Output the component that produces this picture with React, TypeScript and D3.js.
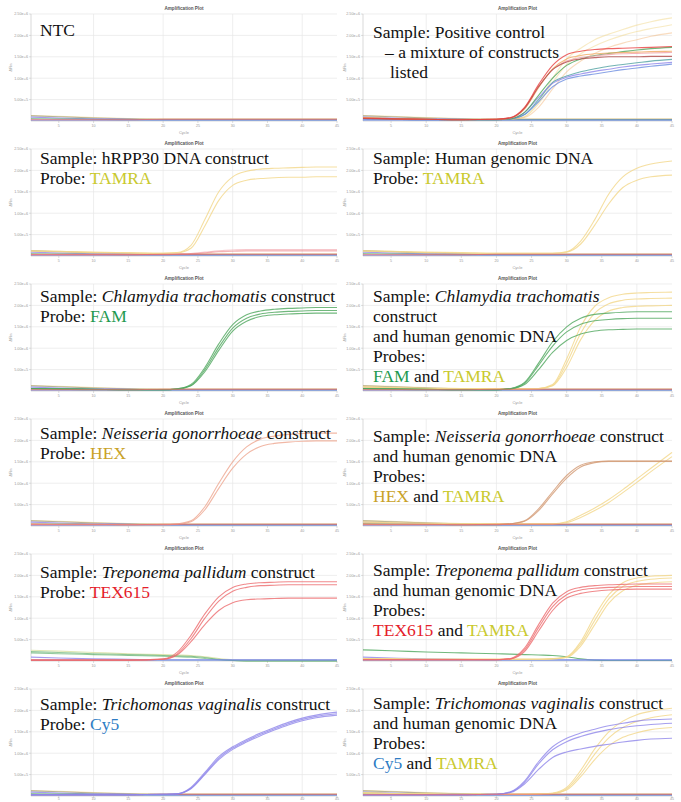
import * as d3 from "d3";

const CYCLES = [1, 5, 10, 15, 20, 22, 24, 26, 28, 30, 32, 34, 36, 38, 40, 42, 45];

const X_TICKS = [5, 10, 15, 20, 25, 30, 35, 40, 45];
const X_GRID = [10, 20, 30, 40];
const Y_TICKS = [0.5, 1.0, 1.5, 2.0, 2.5];
const Y_TICK_LABELS = ["5.00e+5", "1.00e+6", "1.50e+6", "2.00e+6", "2.50e+6"];

// ΔRn values in millions
const BASE_OLIVE = [0.12, 0.1, 0.07, 0.05, 0.04, 0.04, 0.04, 0.04, 0.04, 0.04, 0.04, 0.04, 0.04, 0.04, 0.04, 0.04, 0.04];
const BASE_PURPLE = [0.09, 0.07, 0.05, 0.04, 0.03, 0.03, 0.03, 0.03, 0.03, 0.03, 0.03, 0.03, 0.03, 0.03, 0.03, 0.03, 0.03];
const BASE_YELLOW = [0.13, 0.11, 0.08, 0.06, 0.05, 0.05, 0.05, 0.05, 0.05, 0.05, 0.05, 0.05, 0.05, 0.05, 0.05, 0.05, 0.05];
const BASE_GREEN = [0.06, 0.05, 0.04, 0.03, 0.03, 0.03, 0.03, 0.03, 0.03, 0.03, 0.03, 0.03, 0.03, 0.03, 0.03, 0.03, 0.03];
const BASE_RED = [0.03, 0.03, 0.03, 0.03, 0.04, 0.04, 0.04, 0.04, 0.04, 0.04, 0.04, 0.04, 0.04, 0.04, 0.04, 0.04, 0.04];
const BASE_BLUE = [0.02, 0.02, 0.02, 0.02, 0.02, 0.02, 0.02, 0.02, 0.02, 0.02, 0.02, 0.02, 0.02, 0.02, 0.02, 0.02, 0.02];

// positive control
const PC_RED = [0.07, 0.05, 0.04, 0.03, 0.04, 0.08, 0.32, 0.85, 1.3, 1.55, 1.63, 1.67, 1.69, 1.7, 1.71, 1.72, 1.74];
const PC_ORANGE = [0.08, 0.06, 0.04, 0.03, 0.04, 0.07, 0.28, 0.78, 1.22, 1.45, 1.53, 1.57, 1.59, 1.6, 1.61, 1.62, 1.63];
const PC_BROWN = [0.06, 0.05, 0.04, 0.03, 0.04, 0.07, 0.3, 0.8, 1.2, 1.38, 1.45, 1.48, 1.5, 1.5, 1.5, 1.51, 1.51];
const PC_PINK = [0.06, 0.05, 0.04, 0.03, 0.04, 0.07, 0.3, 0.8, 1.2, 1.4, 1.48, 1.52, 1.55, 1.57, 1.58, 1.59, 1.6];
const PC_GREEN = [0.06, 0.05, 0.04, 0.03, 0.03, 0.05, 0.2, 0.6, 1.0, 1.3, 1.45, 1.53, 1.58, 1.62, 1.66, 1.69, 1.72];
const PC_TEAL = [0.05, 0.04, 0.03, 0.03, 0.03, 0.05, 0.15, 0.5, 0.9, 1.05, 1.15, 1.22, 1.28, 1.32, 1.36, 1.4, 1.44];
const PC_BLUE = [0.05, 0.04, 0.03, 0.03, 0.03, 0.05, 0.15, 0.45, 0.8, 0.98, 1.05, 1.1, 1.15, 1.2, 1.24, 1.28, 1.33];
const PC_VIOLET = [0.05, 0.04, 0.03, 0.03, 0.03, 0.05, 0.2, 0.55, 0.88, 1.02, 1.1, 1.16, 1.21, 1.26, 1.3, 1.33, 1.37];
const PC_YEL1 = [0.08, 0.06, 0.04, 0.03, 0.03, 0.04, 0.1, 0.45, 1.0, 1.45, 1.7, 1.9, 2.03, 2.14, 2.24, 2.32, 2.41];
const PC_YEL2 = [0.08, 0.06, 0.04, 0.03, 0.03, 0.04, 0.1, 0.4, 0.9, 1.32, 1.57, 1.75, 1.89, 2.0, 2.09, 2.16, 2.25];
const PC_YEL3 = [0.08, 0.06, 0.04, 0.03, 0.03, 0.04, 0.08, 0.32, 0.75, 1.15, 1.4, 1.58, 1.72, 1.82, 1.9, 1.98, 2.06];

// hRPP30 construct
const HR_YEL1 = [0.12, 0.11, 0.09, 0.08, 0.07, 0.08, 0.25, 0.85, 1.5, 1.85, 1.98, 2.03, 2.05, 2.06, 2.07, 2.08, 2.08];
const HR_YEL2 = [0.11, 0.1, 0.08, 0.07, 0.06, 0.07, 0.18, 0.7, 1.3, 1.65, 1.77, 1.81, 1.83, 1.84, 1.84, 1.85, 1.85];
const HR_PINK1 = [0.04, 0.04, 0.04, 0.04, 0.04, 0.05, 0.06, 0.09, 0.12, 0.14, 0.15, 0.15, 0.15, 0.15, 0.15, 0.15, 0.15];
const HR_PINK2 = [0.03, 0.03, 0.03, 0.03, 0.03, 0.04, 0.05, 0.07, 0.1, 0.11, 0.12, 0.12, 0.12, 0.12, 0.12, 0.12, 0.12];

// human genomic DNA
const HG_YEL1 = [0.12, 0.11, 0.09, 0.08, 0.07, 0.07, 0.07, 0.07, 0.07, 0.1, 0.35, 0.85, 1.45, 1.85, 2.05, 2.15, 2.22];
const HG_YEL2 = [0.11, 0.1, 0.08, 0.07, 0.06, 0.06, 0.06, 0.06, 0.06, 0.09, 0.28, 0.72, 1.22, 1.6, 1.77, 1.85, 1.89];

// Chlamydia trachomatis
const CT_G1 = [0.06, 0.05, 0.04, 0.03, 0.03, 0.05, 0.15, 0.55, 1.1, 1.55, 1.78, 1.87, 1.91, 1.93, 1.94, 1.95, 1.95];
const CT_G2 = [0.06, 0.05, 0.04, 0.03, 0.03, 0.05, 0.13, 0.5, 1.02, 1.47, 1.7, 1.8, 1.84, 1.86, 1.87, 1.88, 1.88];
const CT_G3 = [0.05, 0.04, 0.03, 0.03, 0.03, 0.04, 0.12, 0.45, 0.95, 1.4, 1.63, 1.74, 1.78, 1.8, 1.81, 1.82, 1.82];
const CTH_G1 = [0.06, 0.05, 0.04, 0.03, 0.03, 0.06, 0.2, 0.65, 1.15, 1.5, 1.7, 1.79, 1.82, 1.84, 1.85, 1.85, 1.85];
const CTH_G2 = [0.06, 0.05, 0.04, 0.03, 0.03, 0.05, 0.18, 0.6, 1.05, 1.38, 1.56, 1.64, 1.67, 1.69, 1.7, 1.7, 1.7];
const CTH_G3 = [0.05, 0.04, 0.03, 0.03, 0.03, 0.05, 0.15, 0.5, 0.9, 1.18, 1.33, 1.4, 1.43, 1.44, 1.45, 1.45, 1.45];
const CTH_Y1 = [0.1, 0.08, 0.06, 0.05, 0.05, 0.05, 0.05, 0.06, 0.15, 0.75, 1.5, 1.98, 2.18, 2.26, 2.29, 2.3, 2.31];
const CTH_Y2 = [0.1, 0.08, 0.06, 0.05, 0.05, 0.05, 0.05, 0.06, 0.13, 0.65, 1.35, 1.82, 2.04, 2.12, 2.15, 2.16, 2.17];
const CTH_Y3 = [0.09, 0.07, 0.06, 0.05, 0.05, 0.05, 0.05, 0.05, 0.12, 0.55, 1.2, 1.65, 1.87, 1.95, 1.98, 1.99, 2.0];

// Neisseria gonorrhoeae
const NG_H1 = [0.05, 0.04, 0.04, 0.03, 0.03, 0.05, 0.12, 0.45, 1.0, 1.5, 1.85, 2.03, 2.1, 2.14, 2.16, 2.17, 2.17];
const NG_H2 = [0.05, 0.04, 0.04, 0.03, 0.03, 0.04, 0.1, 0.38, 0.88, 1.35, 1.68, 1.86, 1.93, 1.96, 1.98, 1.99, 1.99];
const NGH_H1 = [0.05, 0.04, 0.04, 0.03, 0.03, 0.05, 0.12, 0.4, 0.8, 1.18, 1.42, 1.5, 1.52, 1.52, 1.52, 1.52, 1.52];
const NGH_H2 = [0.05, 0.04, 0.04, 0.03, 0.03, 0.05, 0.11, 0.36, 0.75, 1.12, 1.38, 1.48, 1.51, 1.51, 1.51, 1.51, 1.51];
const NGH_Y1 = [0.1, 0.08, 0.06, 0.05, 0.05, 0.05, 0.05, 0.05, 0.05, 0.1, 0.25, 0.42, 0.62, 0.85, 1.1, 1.35, 1.72];
const NGH_Y2 = [0.09, 0.07, 0.06, 0.05, 0.05, 0.05, 0.05, 0.05, 0.05, 0.08, 0.2, 0.36, 0.55, 0.78, 1.02, 1.27, 1.62];

// Treponema pallidum
const TP_R1 = [0.02, 0.02, 0.02, 0.02, 0.05, 0.2, 0.6, 1.1, 1.5, 1.72, 1.8, 1.83, 1.84, 1.85, 1.85, 1.85, 1.85];
const TP_R2 = [0.02, 0.02, 0.02, 0.02, 0.04, 0.16, 0.52, 1.0, 1.4, 1.63, 1.72, 1.76, 1.77, 1.78, 1.78, 1.78, 1.78];
const TP_R3 = [0.02, 0.02, 0.02, 0.02, 0.04, 0.14, 0.45, 0.85, 1.18, 1.36, 1.43, 1.45, 1.46, 1.47, 1.47, 1.47, 1.47];
const TP_GREEN1 = [0.22, 0.2, 0.17, 0.15, 0.13, 0.12, 0.11, 0.08, 0.04, 0.01, 0.0, 0.0, 0.0, 0.0, 0.0, 0.0, 0.0];
const TP_GREEN2 = [0.19, 0.17, 0.15, 0.13, 0.11, 0.1, 0.09, 0.06, 0.03, 0.01, 0.0, 0.0, 0.0, 0.0, 0.0, 0.0, 0.0];
const TP_LIME = [0.25, 0.23, 0.2, 0.17, 0.15, 0.14, 0.13, 0.1, 0.06, 0.03, 0.02, 0.02, 0.02, 0.02, 0.02, 0.02, 0.02];
const TPH_R1 = [0.03, 0.03, 0.03, 0.03, 0.03, 0.06, 0.3, 0.85, 1.35, 1.62, 1.72, 1.76, 1.78, 1.79, 1.8, 1.8, 1.8];
const TPH_R2 = [0.03, 0.03, 0.03, 0.03, 0.03, 0.05, 0.26, 0.78, 1.27, 1.55, 1.66, 1.7, 1.72, 1.73, 1.74, 1.74, 1.74];
const TPH_R3 = [0.03, 0.03, 0.03, 0.03, 0.03, 0.05, 0.22, 0.7, 1.18, 1.47, 1.58, 1.63, 1.66, 1.67, 1.68, 1.68, 1.68];
const TPH_Y1 = [0.06, 0.05, 0.04, 0.04, 0.04, 0.04, 0.04, 0.04, 0.06, 0.1, 0.45, 1.05, 1.55, 1.83, 1.94, 1.98, 2.0];
const TPH_Y2 = [0.06, 0.05, 0.04, 0.04, 0.04, 0.04, 0.04, 0.04, 0.05, 0.09, 0.4, 0.95, 1.45, 1.74, 1.86, 1.91, 1.94];
const TPH_Y3 = [0.06, 0.05, 0.04, 0.04, 0.04, 0.04, 0.04, 0.04, 0.05, 0.08, 0.35, 0.85, 1.35, 1.64, 1.77, 1.82, 1.85];
const TPH_GREEN = [0.26, 0.24, 0.21, 0.19, 0.17, 0.16, 0.15, 0.14, 0.13, 0.1, 0.05, 0.02, 0.01, 0.01, 0.01, 0.01, 0.01];

// Trichomonas vaginalis
const TV_P1 = [0.03, 0.03, 0.03, 0.03, 0.04, 0.05, 0.2, 0.55, 0.92, 1.15, 1.32, 1.47, 1.6, 1.72, 1.82, 1.89, 1.96];
const TV_P2 = [0.03, 0.03, 0.03, 0.03, 0.04, 0.05, 0.18, 0.52, 0.88, 1.12, 1.29, 1.44, 1.57, 1.69, 1.79, 1.86, 1.92];
const TV_P3 = [0.03, 0.03, 0.03, 0.03, 0.04, 0.05, 0.17, 0.5, 0.85, 1.09, 1.26, 1.41, 1.54, 1.66, 1.76, 1.83, 1.89];
const TVH_P1 = [0.03, 0.03, 0.03, 0.03, 0.04, 0.1, 0.35, 0.8, 1.15, 1.35, 1.47, 1.56, 1.64, 1.7, 1.75, 1.78, 1.8];
const TVH_P2 = [0.03, 0.03, 0.03, 0.03, 0.04, 0.09, 0.32, 0.75, 1.08, 1.27, 1.39, 1.48, 1.55, 1.6, 1.64, 1.67, 1.7];
const TVH_P3 = [0.03, 0.03, 0.03, 0.03, 0.04, 0.08, 0.28, 0.62, 0.9, 1.03, 1.1, 1.16, 1.21, 1.26, 1.3, 1.33, 1.35];
const TVH_Y1 = [0.08, 0.06, 0.05, 0.04, 0.04, 0.04, 0.04, 0.05, 0.07, 0.2, 0.6, 1.1, 1.5, 1.75, 1.9, 1.98, 2.05];
const TVH_Y2 = [0.08, 0.06, 0.05, 0.04, 0.04, 0.04, 0.04, 0.05, 0.06, 0.17, 0.52, 0.98, 1.36, 1.6, 1.74, 1.83, 1.9];
const TVH_Y3 = [0.07, 0.06, 0.05, 0.04, 0.04, 0.04, 0.04, 0.05, 0.06, 0.14, 0.45, 0.85, 1.17, 1.37, 1.48, 1.55, 1.6];

const COL = {
  purple: "#8f86ea",
  green: "#4ea65c",
  yellow: "#f2d78a",
  hexPink: "#eea690",
  hexBrown: "#d29872",
  red: "#ec6b6e",
  brightRed: "#e84040",
  olive: "#8b8b70",
  blue: "#6d8de0",
  teal: "#4fa0a0",
  orange: "#f0a860",
  pink: "#f2a0a8",
  brown: "#b04848",
  lime: "#d8e0a0",
};

const TXT = {
  TAMRA: "#c9c92e",
  FAM: "#1f9a50",
  HEX: "#c9a227",
  TEX: "#e5202a",
  CY5: "#2d7cc4",
};

type Seg = { t: string; c?: string; i?: boolean };
type Curve = { v: number[]; c: string; o?: number };
type Panel = { lines: Seg[][]; curves: Curve[] };

const sample = (name: string, tail = " construct"): Seg[] => [
  { t: "Sample: " },
  { t: name, i: true },
  { t: tail },
];

const baseSet = (): Curve[] => [
  { v: BASE_YELLOW, c: COL.yellow, o: 0.6 },
  { v: BASE_OLIVE, c: COL.olive, o: 0.6 },
  { v: BASE_PURPLE, c: COL.purple },
  { v: BASE_GREEN, c: COL.green, o: 0.6 },
  { v: BASE_BLUE, c: COL.blue },
];

const PANELS: Panel[] = [
  {
    lines: [[{ t: "NTC" }]],
    curves: [...baseSet(), { v: BASE_RED, c: COL.red }],
  },
  {
    lines: [[{ t: "Sample: Positive control" }], [{ t: "– a mixture of constructs" }], [{ t: "listed" }]],
    curves: [
      ...baseSet(),
      { v: PC_YEL1, c: COL.yellow, o: 0.5 },
      { v: PC_YEL2, c: COL.yellow, o: 0.5 },
      { v: PC_YEL3, c: COL.orange, o: 0.4 },
      { v: PC_TEAL, c: COL.teal },
      { v: PC_BLUE, c: COL.blue },
      { v: PC_VIOLET, c: COL.purple },
      { v: PC_GREEN, c: COL.green },
      { v: PC_PINK, c: COL.pink },
      { v: PC_ORANGE, c: COL.orange },
      { v: PC_BROWN, c: COL.brown },
      { v: PC_RED, c: COL.brightRed },
    ],
  },
  {
    lines: [[{ t: "Sample: hRPP30 DNA construct" }], [{ t: "Probe: " }, { t: "TAMRA", c: TXT.TAMRA }]],
    curves: [
      ...baseSet(),
      { v: HR_PINK1, c: COL.pink, o: 0.6 },
      { v: HR_PINK2, c: COL.red, o: 0.5 },
      { v: HR_YEL1, c: COL.yellow },
      { v: HR_YEL2, c: COL.yellow },
      { v: BASE_RED, c: COL.red },
    ],
  },
  {
    lines: [[{ t: "Sample: Human genomic DNA" }], [{ t: "Probe: " }, { t: "TAMRA", c: TXT.TAMRA }]],
    curves: [
      ...baseSet(),
      { v: HG_YEL1, c: COL.yellow },
      { v: HG_YEL2, c: COL.yellow },
      { v: BASE_RED, c: COL.red },
    ],
  },
  {
    lines: [sample("Chlamydia trachomatis"), [{ t: "Probe: " }, { t: "FAM", c: TXT.FAM }]],
    curves: [
      ...baseSet(),
      { v: CT_G3, c: COL.green },
      { v: CT_G2, c: COL.green },
      { v: CT_G1, c: COL.green },
      { v: BASE_RED, c: COL.red },
    ],
  },
  {
    lines: [
      sample("Chlamydia trachomatis", ""),
      [{ t: "construct" }],
      [{ t: "and human genomic DNA" }],
      [{ t: "Probes:" }],
      [{ t: "FAM", c: TXT.FAM }, { t: " and " }, { t: "TAMRA", c: TXT.TAMRA }],
    ],
    curves: [
      ...baseSet(),
      { v: CTH_Y1, c: COL.yellow },
      { v: CTH_Y2, c: COL.yellow },
      { v: CTH_Y3, c: COL.yellow },
      { v: CTH_G1, c: COL.green },
      { v: CTH_G2, c: COL.green },
      { v: CTH_G3, c: COL.green },
      { v: BASE_RED, c: COL.red },
    ],
  },
  {
    lines: [sample("Neisseria gonorrhoeae"), [{ t: "Probe: " }, { t: "HEX", c: TXT.HEX }]],
    curves: [
      ...baseSet(),
      { v: NG_H2, c: COL.hexPink },
      { v: NG_H1, c: COL.hexPink },
      { v: BASE_RED, c: COL.red },
    ],
  },
  {
    lines: [
      sample("Neisseria gonorrhoeae"),
      [{ t: "and human genomic DNA" }],
      [{ t: "Probes:" }],
      [{ t: "HEX", c: TXT.HEX }, { t: " and " }, { t: "TAMRA", c: TXT.TAMRA }],
    ],
    curves: [
      ...baseSet(),
      { v: NGH_Y1, c: COL.yellow },
      { v: NGH_Y2, c: COL.yellow },
      { v: NGH_H1, c: COL.hexBrown },
      { v: NGH_H2, c: COL.hexBrown },
      { v: BASE_RED, c: COL.red },
    ],
  },
  {
    lines: [sample("Treponema pallidum"), [{ t: "Probe: " }, { t: "TEX615", c: TXT.TEX }]],
    curves: [
      { v: TP_LIME, c: COL.lime },
      { v: TP_GREEN1, c: COL.green, o: 0.6 },
      { v: TP_GREEN2, c: COL.green, o: 0.6 },
      { v: BASE_PURPLE, c: COL.purple },
      { v: BASE_BLUE, c: COL.blue },
      { v: TP_R3, c: COL.red },
      { v: TP_R2, c: COL.red },
      { v: TP_R1, c: COL.red },
    ],
  },
  {
    lines: [
      sample("Treponema pallidum"),
      [{ t: "and human genomic DNA" }],
      [{ t: "Probes:" }],
      [{ t: "TEX615", c: TXT.TEX }, { t: " and " }, { t: "TAMRA", c: TXT.TAMRA }],
    ],
    curves: [
      { v: TPH_GREEN, c: COL.green },
      { v: BASE_PURPLE, c: COL.purple },
      { v: BASE_BLUE, c: COL.blue },
      { v: TPH_Y1, c: COL.yellow },
      { v: TPH_Y2, c: COL.yellow },
      { v: TPH_Y3, c: COL.yellow },
      { v: TPH_R3, c: COL.red },
      { v: TPH_R2, c: COL.red },
      { v: TPH_R1, c: COL.red },
    ],
  },
  {
    lines: [sample("Trichomonas vaginalis"), [{ t: "Probe: " }, { t: "Cy5", c: TXT.CY5 }]],
    curves: [
      ...baseSet(),
      { v: BASE_RED, c: COL.red },
      { v: TV_P3, c: COL.purple },
      { v: TV_P2, c: COL.purple },
      { v: TV_P1, c: COL.purple },
    ],
  },
  {
    lines: [
      sample("Trichomonas vaginalis"),
      [{ t: "and human genomic DNA" }],
      [{ t: "Probes:" }],
      [{ t: "Cy5", c: TXT.CY5 }, { t: " and " }, { t: "TAMRA", c: TXT.TAMRA }],
    ],
    curves: [
      ...baseSet(),
      { v: TVH_Y1, c: COL.yellow },
      { v: TVH_Y2, c: COL.yellow },
      { v: TVH_Y3, c: COL.yellow },
      { v: TVH_P3, c: COL.purple },
      { v: TVH_P2, c: COL.purple },
      { v: TVH_P1, c: COL.purple },
      { v: BASE_RED, c: COL.red },
    ],
  },
];

// layout
const W = 681;
const H = 802;
const COLUMNS = [
  { left: 31, right: 337, ylab: 12, text: 40 },
  { left: 363, right: 672, ylab: 346, text: 373 },
];
const ROW_TOP = [14, 149, 284, 419, 554, 689];
const PLOT_H = 107;
const TEXT_BASE = [22, 24, 15, 15, 18, 18, 20, 23, 24, 22, 21, 20];
const LINE_INDENT: Record<number, number[]> = { 1: [0, 12, 17] };
const LINE_STEP = 20;
const SERIF = "'Liberation Serif', 'Times New Roman', serif";
const SANS = "'Liberation Sans', Arial, sans-serif";

const AmpPlot = ({ panel, idx }: { panel: Panel; idx: number }) => {
  const col = COLUMNS[idx % 2];
  const top = ROW_TOP[Math.floor(idx / 2)];
  const bottom = top + PLOT_H;
  const x = d3.scaleLinear().domain([1, 45]).range([col.left, col.right]);
  const y = d3.scaleLinear().domain([0, 2.5]).range([bottom, top]);
  const line = d3
    .line<number>()
    .x((_, i) => x(CYCLES[i]))
    .y((v) => y(v))
    .curve(d3.curveMonotoneX);
  const cx = (col.left + col.right) / 2;
  const indents = LINE_INDENT[idx] || [];
  const xTickY = Math.min(bottom + 6, H - 2);

  return (
    <g>
      <text x={cx} y={top - 4} textAnchor="middle" fontFamily={SANS} fontSize={4.6} fontWeight="bold" fill="#555">
        Amplification Plot
      </text>
      {Y_TICKS.map((t) => (
        <line key={"h" + t} x1={col.left} x2={col.right} y1={y(t)} y2={y(t)} stroke="#e6e6e6" strokeWidth={0.7} />
      ))}
      {X_GRID.map((t) => (
        <line key={"v" + t} x1={x(t)} x2={x(t)} y1={top} y2={bottom} stroke="#e6e6e6" strokeWidth={0.7} />
      ))}
      <line x1={col.left} x2={col.left} y1={top} y2={bottom} stroke="#c8c8c8" strokeWidth={0.7} />
      <line x1={col.left} x2={col.right} y1={bottom} y2={bottom} stroke="#c8c8c8" strokeWidth={0.7} />
      {Y_TICKS.map((t, i) => (
        <g key={"yt" + t}>
          <line x1={col.left - 2} x2={col.left} y1={y(t)} y2={y(t)} stroke="#bbb" strokeWidth={0.5} />
          <text x={col.left - 3} y={y(t) + 1.4} textAnchor="end" fontFamily={SANS} fontSize={3.8} fill="#999">
            {Y_TICK_LABELS[i]}
          </text>
        </g>
      ))}
      {X_TICKS.map((t) => (
        <g key={"xt" + t}>
          <line x1={x(t)} x2={x(t)} y1={bottom} y2={bottom + 2} stroke="#bbb" strokeWidth={0.5} />
          <text x={x(t)} y={xTickY} textAnchor="middle" fontFamily={SANS} fontSize={3.6} fill="#999">
            {t}
          </text>
        </g>
      ))}
      {bottom + 13 < H && (
        <text x={cx} y={bottom + 13} textAnchor="middle" fontFamily={SANS} fontSize={4} fill="#999">
          Cycle
        </text>
      )}
      <text
        transform={`translate(${col.ylab},${(top + bottom) / 2}) rotate(-90)`}
        textAnchor="middle"
        fontFamily={SANS}
        fontSize={4}
        fill="#999"
      >
        ΔRn
      </text>
      {panel.curves.map((c, i) => (
        <path
          key={"c" + i}
          d={line(c.v) ?? undefined}
          fill="none"
          stroke={c.c}
          strokeOpacity={c.o ?? 0.8}
          strokeWidth={1.1}
        />
      ))}
      {panel.lines.map((segs, li) => (
        <text
          key={"l" + li}
          x={col.text + (indents[li] || 0)}
          y={top + TEXT_BASE[idx] + li * LINE_STEP}
          fontFamily={SERIF}
          fontSize={17.5}
          fill="#111"
        >
          {segs.map((s, si) => (
            <tspan key={si} fill={s.c || "#111"} fontStyle={s.i ? "italic" : "normal"} style={{ whiteSpace: "pre" }}>
              {s.t}
            </tspan>
          ))}
        </text>
      ))}
    </g>
  );
};

export default function App() {
  return (
    <div style={{ position: "absolute", left: 0, top: 0 }}>
      <svg width={W} height={H} viewBox={`0 0 ${W} ${H}`} style={{ display: "block", background: "#fff" }}>
        {PANELS.map((p, i) => (
          <AmpPlot key={i} panel={p} idx={i} />
        ))}
      </svg>
    </div>
  );
}
